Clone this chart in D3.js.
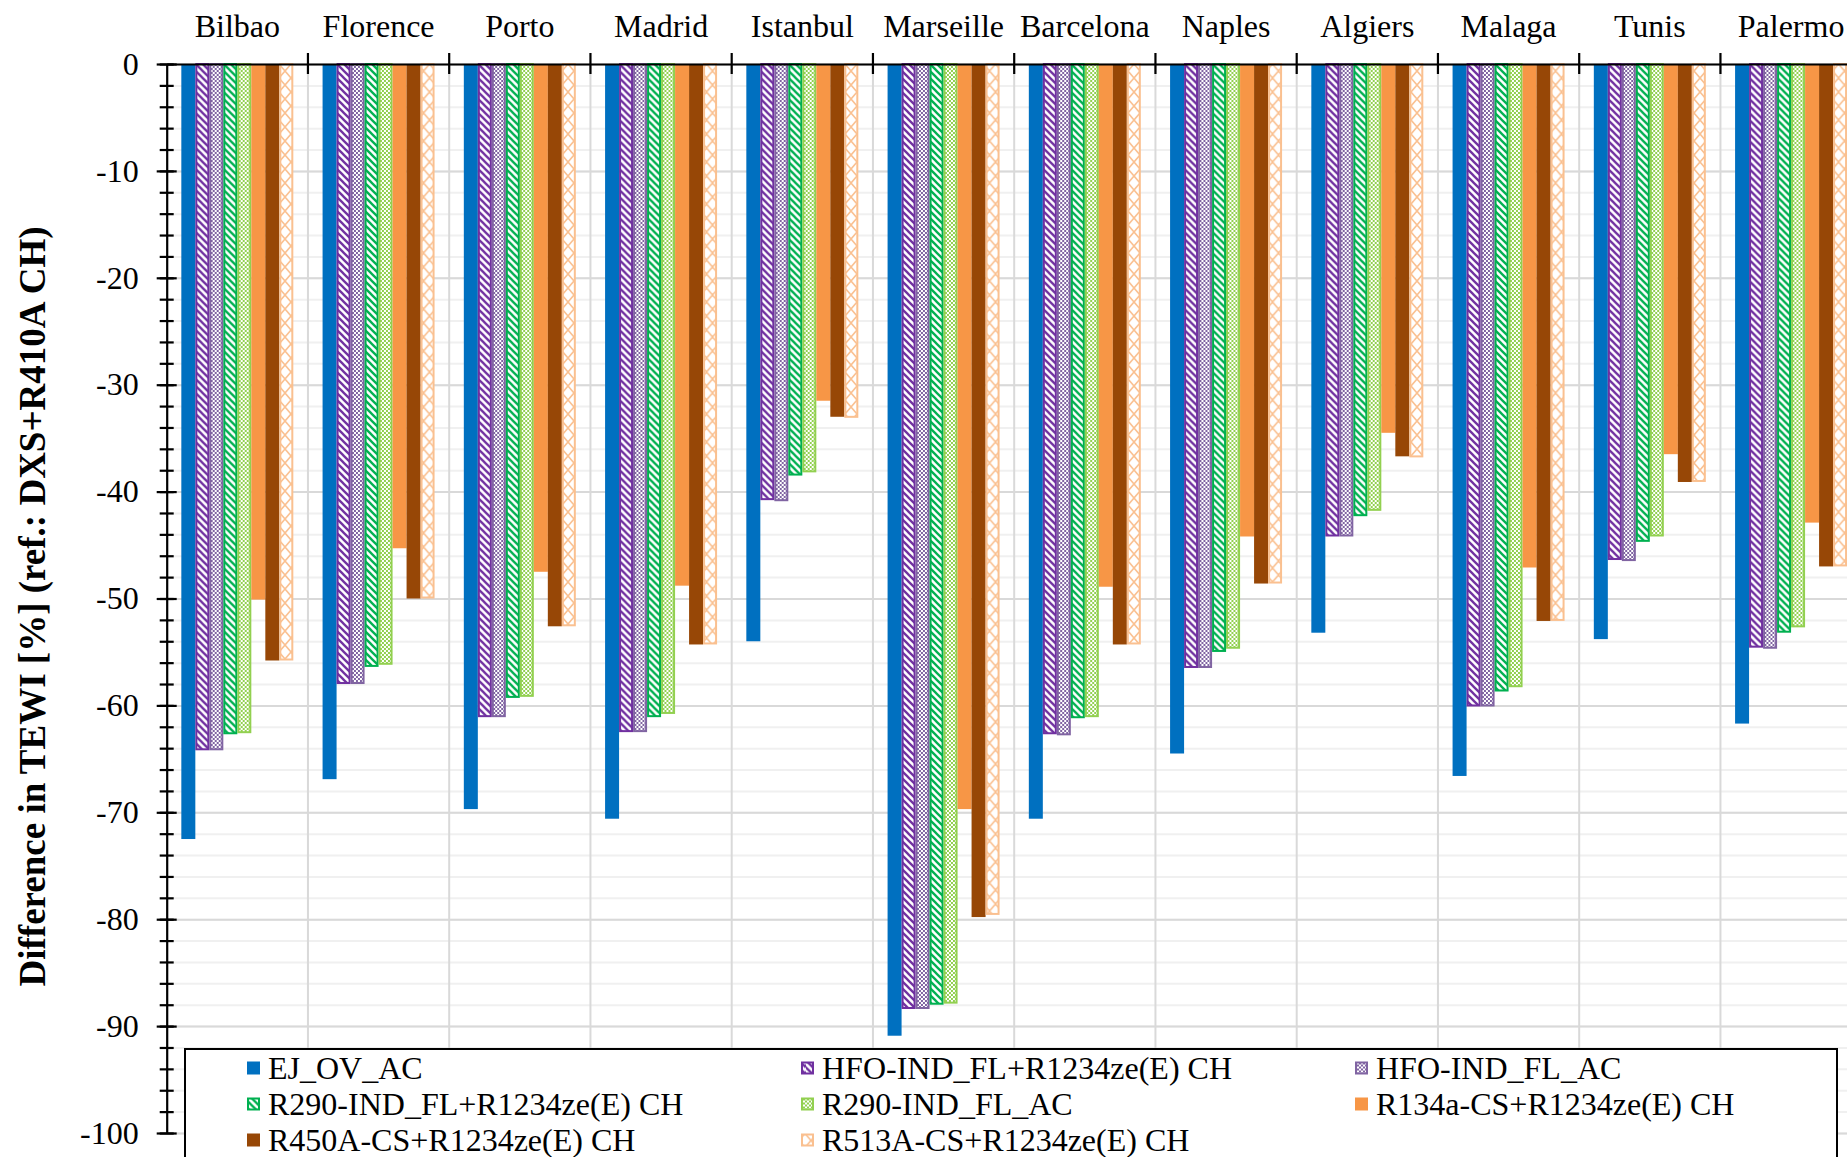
<!DOCTYPE html>
<html><head><meta charset="utf-8">
<script src="https://cdn.jsdelivr.net/npm/d3@7"></script>
<style>
html,body{margin:0;padding:0;background:#fff;overflow:hidden}
svg{display:block}
text{font-family:"Liberation Serif","Times New Roman",serif;fill:#000}
</style>
</head><body>
<svg id="chart" width="1847" height="1157"></svg>
<script>
// ---------- data ----------
const cities = ["Bilbao","Florence","Porto","Madrid","Istanbul","Marseille","Barcelona","Naples","Algiers","Malaga","Tunis","Palermo"];
const seriesNames = ["EJ_OV_AC","HFO-IND_FL+R1234ze(E) CH","HFO-IND_FL_AC","R290-IND_FL+R1234ze(E) CH","R290-IND_FL_AC","R134a-CS+R1234ze(E) CH","R450A-CS+R1234ze(E) CH","R513A-CS+R1234ze(E) CH"];
const ejOvAc      = [-72.5,-66.9,-69.7,-70.6,-54.0,-90.9,-70.6,-64.5,-53.2,-66.6,-53.8,-61.7];
const hfoIndFlCh  = [-64.2,-58.0,-61.1,-62.5,-40.8,-88.4,-62.7,-56.5,-44.2,-60.1,-46.4,-54.6];
const hfoIndFlAc  = [-64.2,-58.0,-61.1,-62.5,-40.9,-88.4,-62.8,-56.5,-44.2,-60.1,-46.5,-54.7];
const r290IndFlCh = [-62.7,-56.4,-59.3,-61.1,-38.5,-88.0,-61.2,-55.0,-42.3,-58.7,-44.7,-53.2];
const r290IndFlAc = [-62.6,-56.2,-59.2,-60.8,-38.2,-87.9,-61.1,-54.7,-41.8,-58.3,-44.2,-52.7];
const r134aCsCh   = [-50.1,-45.3,-47.5,-48.8,-31.5,-69.7,-48.9,-44.2,-34.5,-47.1,-36.5,-42.9];
const r450aCsCh   = [-55.8,-50.0,-52.6,-54.3,-33.0,-79.8,-54.3,-48.6,-36.7,-52.1,-39.1,-47.0];
const r513aCsCh   = [-55.8,-50.0,-52.6,-54.3,-33.1,-79.6,-54.3,-48.6,-36.8,-52.1,-39.1,-47.0];
const seriesValues = [ejOvAc,hfoIndFlCh,hfoIndFlAc,r290IndFlCh,r290IndFlAc,r134aCsCh,r450aCsCh,r513aCsCh];
const yTicks = [0,-10,-20,-30,-40,-50,-60,-70,-80,-90,-100];
const yMinorTicks = d3.range(0,-101,-2);
const yTitle = "Difference in TEWI [%] (ref.: DXS+R410A CH)";

// ---------- styles ----------
const seriesStyle = [
  {type:"solid",  color:"#0070c0"},
  {type:"stripe", color:"#7030a0"},
  {type:"checker",color:"#8064a2"},
  {type:"stripe", color:"#00b050"},
  {type:"checker",color:"#92d050"},
  {type:"solid",  color:"#f79646"},
  {type:"solid",  color:"#974706"},
  {type:"lattice",color:"#fac090"}
];

(function(){
const serif = '"Liberation Serif","Times New Roman",serif';
const plotLeft = 166.7, plotTop = 64, plotBottom = 1133;
const catStep = 141.25;
const plotW = catStep * cities.length;

const svg = d3.select("#chart");
const defs = svg.append("defs");

const x0 = d3.scaleBand().domain(cities).range([plotLeft, plotLeft + plotW]).padding(0);
const x1 = d3.scaleBand().domain(seriesNames).range([0, x0.bandwidth()]).paddingInner(0).paddingOuter(1.045);
const y = d3.scaleLinear().domain([-100, 0]).range([plotBottom, plotTop]);

function makePattern(id, st, ox, oy) {
  if (st.type === "stripe") {
    const p = defs.append("pattern").attr("id", id).attr("patternUnits","userSpaceOnUse")
      .attr("width", 7).attr("height", 7).attr("x", ox||0).attr("y", oy||0);
    p.append("rect").attr("width",7).attr("height",7).attr("fill","#fff");
    p.append("path").attr("d","M0,0L7,7M-3.5,3.5L3.5,10.5M3.5,-3.5L10.5,3.5")
      .attr("stroke", st.color).attr("stroke-width", 2.3).attr("fill","none");
  } else if (st.type === "checker") {
    const p = defs.append("pattern").attr("id", id).attr("patternUnits","userSpaceOnUse")
      .attr("width", 4).attr("height", 4).attr("x", ox||0).attr("y", oy||0);
    p.append("rect").attr("width",4).attr("height",4).attr("fill","#fff");
    p.append("rect").attr("width",2).attr("height",2).attr("fill",st.color);
    p.append("rect").attr("x",2).attr("y",2).attr("width",2).attr("height",2).attr("fill",st.color);
  } else if (st.type === "lattice") {
    const s = 12;
    const p = defs.append("pattern").attr("id", id).attr("patternUnits","userSpaceOnUse")
      .attr("width", s).attr("height", 14).attr("x", ox||0).attr("y", oy||0);
    p.append("rect").attr("width",s).attr("height",14).attr("fill","#fff");
    p.append("path").attr("d",`M0,0L${s},14M${s},0L0,14`)
      .attr("stroke", st.color).attr("stroke-width", 1.6).attr("fill","none");
  }
}
seriesStyle.forEach((st,i) => { if (st.type !== "solid") makePattern("pat"+i, st, 0, 0); });
cities.forEach((c,ci) => makePattern("lat"+ci, seriesStyle[7], x0(c)+x1(seriesNames[7])+1, plotTop));

const plot = svg.append("g");

// minor grid
plot.append("g").attr("transform",`translate(${plotLeft},0)`)
  .call(d3.axisLeft(y).tickValues(yMinorTicks).tickSize(-plotW).tickFormat(""))
  .call(g => g.select(".domain").remove())
  .call(g => g.selectAll("line").attr("stroke","#f0f0f0").attr("stroke-width",2));
// major grid
plot.append("g").attr("transform",`translate(${plotLeft},0)`)
  .call(d3.axisLeft(y).tickValues(yTicks).tickSize(-plotW).tickFormat(""))
  .call(g => g.select(".domain").remove())
  .call(g => g.selectAll("line").attr("stroke","#d9d9d9").attr("stroke-width",2));
// vertical grid
const boundaries = cities.map(c => x0(c)).concat([plotLeft + plotW]);
plot.append("g").selectAll("line").data(boundaries.slice(1)).join("line")
  .attr("x1", d => d).attr("x2", d => d).attr("y1", plotTop).attr("y2", plotBottom)
  .attr("stroke","#d9d9d9").attr("stroke-width",2);

// bars
const groups = plot.append("g").selectAll("g").data(cities).join("g")
  .attr("transform", c => `translate(${x0(c)},0)`);
groups.each(function(c, ci) {
  const g = d3.select(this);
  seriesNames.forEach((s, si) => {
    const v = seriesValues[si][ci];
    const st = seriesStyle[si];
    const bx = x1(s), bw = x1.bandwidth();
    const y0 = y(0), y1v = y(v);
    if (st.type === "solid") {
      g.append("rect").attr("x", bx).attr("y", y0).attr("width", bw).attr("height", y1v - y0)
        .attr("fill", st.color);
    } else {
      const fill = st.type === "lattice" ? `url(#lat${ci})` : `url(#pat${si})`;
      g.append("rect").attr("x", bx + 1).attr("y", y0).attr("width", bw - 2).attr("height", y1v - y0 - 1)
        .attr("fill", fill).attr("stroke", st.color).attr("stroke-width", 2);
    }
  });
});

// y axis
const yAxisG = svg.append("g").attr("transform",`translate(${plotLeft},0)`)
  .call(d3.axisLeft(y).tickValues(yMinorTicks).tickSize(0).tickFormat(""));
yAxisG.select(".domain").attr("stroke","#000").attr("stroke-width",2.2);
yAxisG.selectAll(".tick line").attr("x1",-7).attr("x2",7).attr("stroke","#000").attr("stroke-width",2.2);
const yMajorG = svg.append("g").attr("transform",`translate(${plotLeft},0)`)
  .call(d3.axisLeft(y).tickValues(yTicks).tickSize(0).tickPadding(28).tickFormat(d => String(d)));
yMajorG.attr("font-family", null);
yMajorG.select(".domain").remove();
yMajorG.selectAll(".tick line").attr("x1",-10).attr("x2",10).attr("stroke","#000").attr("stroke-width",2.2);
yMajorG.selectAll(".tick text").attr("font-size",32).style("font-family", serif).attr("fill","#000");

// top x axis at y=0
const xAxisG = svg.append("g").attr("transform",`translate(0,${y(0)})`)
  .call(d3.axisTop(x0).tickSize(0).tickPadding(0).tickFormat(""));
xAxisG.select(".domain").attr("stroke","#000").attr("stroke-width",2.2);
xAxisG.selectAll(".tick").remove();
svg.append("g").selectAll("line").data(boundaries.slice(1)).join("line")
  .attr("x1", d => d).attr("x2", d => d).attr("y1", y(0) - 11).attr("y2", y(0) + 10)
  .attr("stroke","#000").attr("stroke-width",2.2);
svg.append("g").selectAll("text").data(cities).join("text")
  .attr("x", c => x0(c) + x0.bandwidth()/2).attr("y", 37)
  .attr("text-anchor","middle").attr("font-size",32).style("font-family", serif).text(c => c);

// y title
svg.append("text").attr("transform",`translate(32,${(plotTop+plotBottom)/2 + 8}) rotate(-90)`)
  .attr("text-anchor","middle").attr("dy","0.35em").attr("font-size",37).attr("font-weight","bold")
  .style("font-family", serif).text(yTitle);

// legend
const leg = svg.append("g");
leg.append("rect").attr("x",185).attr("y",1049).attr("width",1652).attr("height",160)
  .attr("fill","#fff").attr("stroke","#000").attr("stroke-width",2);
const colX = [247, 801, 1355];
const rowY = [1068, 1104, 1140];
const items = leg.selectAll("g.item").data(seriesNames).join("g").attr("class","item")
  .attr("transform",(d,i) => `translate(${colX[i%3]},${rowY[Math.floor(i/3)]})`);
items.each(function(s, i) {
  const g = d3.select(this);
  const st = seriesStyle[i];
  if (st.type === "solid") {
    g.append("rect").attr("x",0).attr("y",-6.5).attr("width",13).attr("height",13).attr("fill",st.color);
  } else {
    const id = "lg"+i;
    makePattern(id, st, colX[i%3]+1, rowY[Math.floor(i/3)]-5.5);
    g.append("rect").attr("x",1).attr("y",-5.5).attr("width",11).attr("height",11)
      .attr("fill",`url(#${id})`).attr("stroke",st.color).attr("stroke-width",2);
  }
  g.append("text").attr("x",21).attr("y",0).attr("dy","0.35em").attr("font-size",32)
    .style("font-family", serif).text(s);
});
})();
</script>
</body></html>
